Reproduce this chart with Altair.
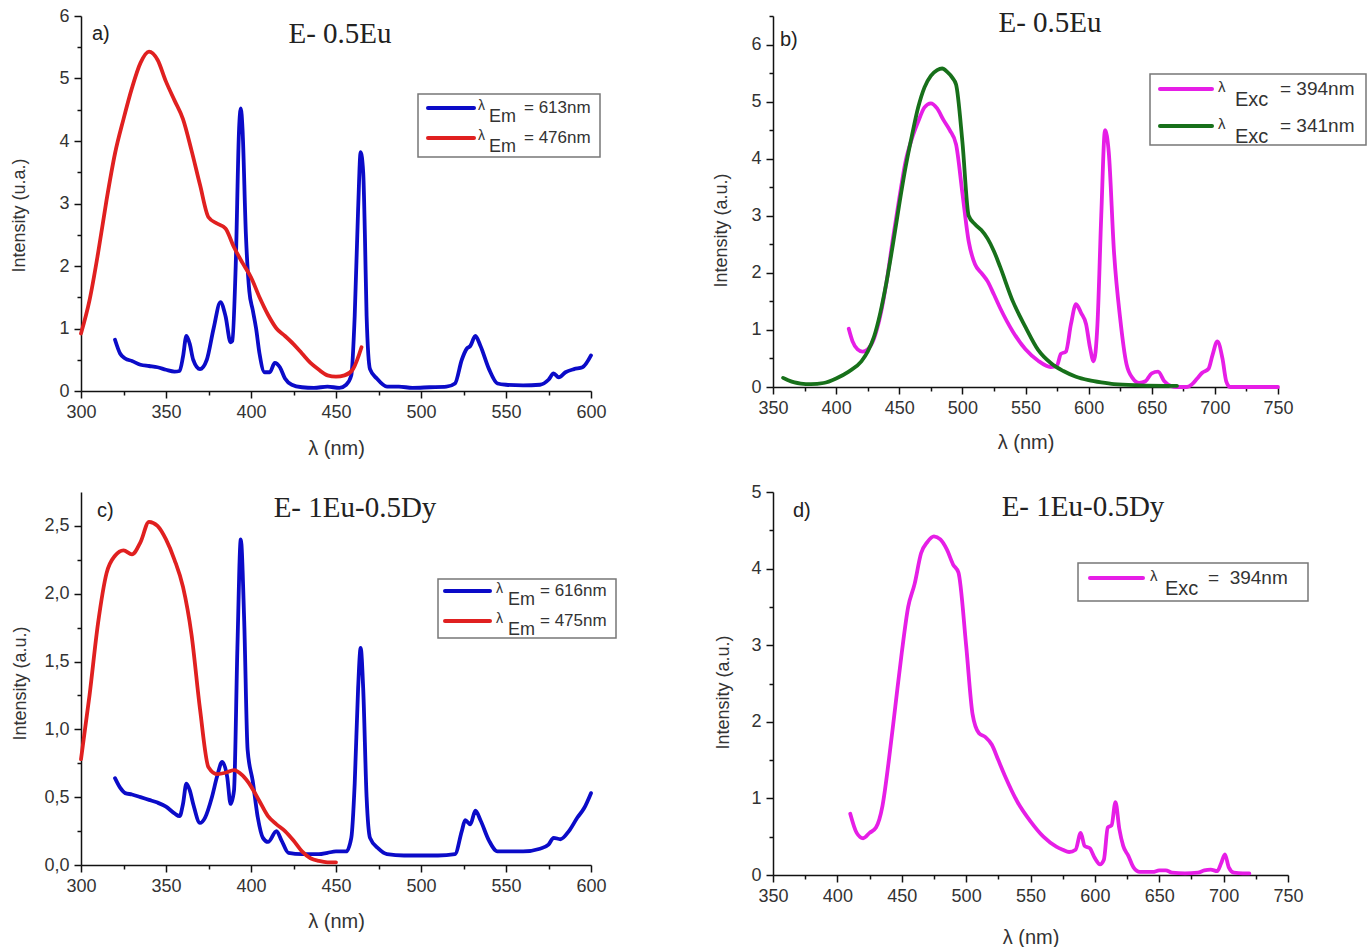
import altair as alt
import pandas as pd

SANS = "Liberation Sans, Arial, Helvetica, sans-serif"
SERIF = "Liberation Serif, Times New Roman, serif"

# ---------------- data (wavelength nm, intensity a.u.) ----------------
# a) E- 0.5Eu excitation
A_BLUE = [(320, 0.82), (323, 0.6), (326, 0.52), (330, 0.48), (335, 0.42), (340, 0.40), (345, 0.38),
          (350, 0.34), (355, 0.31), (358, 0.32), (360, 0.55), (362, 0.88), (364, 0.75), (366, 0.5),
          (370, 0.35), (374, 0.5), (378, 1.0), (382, 1.42), (385, 1.2), (388, 0.78), (389, 0.8),
          (391, 2.0), (393, 4.2), (394, 4.52), (395, 4.2), (397, 2.5), (399, 1.6), (401, 1.3),
          (403, 1.0), (405, 0.6), (408, 0.3), (411, 0.3), (414, 0.45), (417, 0.38), (420, 0.2),
          (424, 0.1), (430, 0.06), (437, 0.05), (445, 0.07), (452, 0.05), (456, 0.1), (459, 0.25),
          (461, 1.2), (463, 2.9), (464.5, 3.82), (466, 3.5), (467, 2.5), (468, 1.2), (470, 0.35),
          (474, 0.2), (480, 0.07), (487, 0.07), (495, 0.05), (505, 0.06), (515, 0.07), (520, 0.12),
          (524, 0.5), (527, 0.68), (529, 0.72), (532, 0.88), (535, 0.72), (540, 0.35), (545, 0.12),
          (550, 0.1), (560, 0.09), (570, 0.1), (575, 0.18), (578, 0.28), (581, 0.22), (585, 0.3),
          (590, 0.35), (595, 0.38), (600, 0.57)]
A_RED = [(300, 0.92), (305, 1.45), (310, 2.2), (315, 3.05), (320, 3.8), (325, 4.35), (330, 4.85),
         (335, 5.25), (340, 5.43), (345, 5.3), (350, 4.95), (355, 4.65), (360, 4.35), (365, 3.85),
         (370, 3.3), (375, 2.78), (380, 2.68), (385, 2.6), (390, 2.3), (395, 2.05), (400, 1.82),
         (405, 1.5), (410, 1.22), (415, 1.0), (420, 0.88), (425, 0.75), (430, 0.6), (435, 0.45),
         (440, 0.34), (445, 0.25), (450, 0.23), (455, 0.25), (460, 0.35), (465, 0.7)]

# b) E- 0.5Eu emission
B_MAG = [(410, 1.02), (413, 0.8), (417, 0.66), (421, 0.62), (425, 0.66), (430, 0.85), (435, 1.25),
         (440, 1.85), (445, 2.6), (450, 3.3), (455, 3.95), (460, 4.35), (465, 4.65), (470, 4.9),
         (475, 4.97), (480, 4.88), (485, 4.68), (490, 4.5), (495, 4.25), (500, 3.4), (505, 2.55),
         (510, 2.15), (515, 2.0), (520, 1.85), (525, 1.62), (530, 1.38), (540, 0.97), (550, 0.66),
         (560, 0.46), (570, 0.35), (575, 0.38), (578, 0.58), (582, 0.62), (586, 1.1), (590, 1.45),
         (594, 1.3), (598, 1.1), (601, 0.7), (604, 0.45), (607, 1.1), (610, 3.0), (613, 4.5),
         (616, 4.1), (620, 2.4), (625, 1.2), (630, 0.4), (635, 0.15), (640, 0.07), (645, 0.1),
         (650, 0.24), (655, 0.27), (660, 0.1), (665, 0.02), (670, 0.0), (678, 0.0), (682, 0.05),
         (686, 0.15), (690, 0.25), (695, 0.32), (698, 0.55), (702, 0.8), (706, 0.5), (709, 0.1),
         (712, 0.0), (750, 0.0)]
B_GREEN = [(358, 0.16), (362, 0.12), (367, 0.08), (372, 0.06), (380, 0.05), (390, 0.07), (400, 0.15),
           (410, 0.27), (420, 0.45), (425, 0.62), (430, 0.88), (435, 1.3), (440, 1.85), (445, 2.5),
           (450, 3.2), (455, 3.85), (460, 4.4), (465, 4.9), (470, 5.25), (475, 5.45), (480, 5.55),
           (484, 5.58), (488, 5.52), (492, 5.42), (495, 5.3), (500, 4.3), (505, 3.0), (510, 2.85),
           (515, 2.75), (520, 2.6), (525, 2.38), (530, 2.1), (540, 1.5), (550, 1.05), (560, 0.65),
           (570, 0.42), (580, 0.28), (590, 0.18), (600, 0.12), (610, 0.08), (620, 0.05), (640, 0.03),
           (670, 0.02)]

# c) E- 1Eu-0.5Dy excitation
C_BLUE = [(320, 0.64), (323, 0.57), (326, 0.53), (330, 0.52), (335, 0.5), (340, 0.48), (345, 0.46),
          (350, 0.43), (355, 0.38), (358, 0.36), (360, 0.45), (362, 0.6), (364, 0.55), (366, 0.45),
          (370, 0.31), (373, 0.35), (377, 0.5), (380, 0.65), (383, 0.76), (386, 0.65), (388, 0.45),
          (390, 0.55), (392, 1.6), (394, 2.4), (396, 1.8), (398, 0.85), (401, 0.62), (404, 0.35),
          (407, 0.2), (410, 0.17), (415, 0.25), (418, 0.18), (422, 0.09), (430, 0.08), (440, 0.08),
          (445, 0.09), (450, 0.1), (456, 0.1), (459, 0.2), (461, 0.6), (463, 1.3), (464.5, 1.6),
          (466, 1.3), (468, 0.5), (470, 0.2), (475, 0.12), (480, 0.08), (490, 0.07), (500, 0.07),
          (510, 0.07), (520, 0.08), (524, 0.25), (526, 0.33), (529, 0.3), (532, 0.4), (535, 0.33),
          (540, 0.18), (545, 0.1), (550, 0.1), (560, 0.1), (570, 0.12), (575, 0.15), (578, 0.2),
          (582, 0.19), (587, 0.25), (592, 0.35), (596, 0.42), (600, 0.53)]
C_RED = [(300, 0.78), (305, 1.25), (310, 1.78), (315, 2.15), (320, 2.28), (325, 2.32), (330, 2.29),
         (335, 2.38), (340, 2.53), (345, 2.5), (350, 2.4), (355, 2.25), (360, 2.05), (365, 1.7),
         (370, 1.15), (375, 0.72), (380, 0.67), (385, 0.68), (390, 0.7), (395, 0.66), (400, 0.58),
         (405, 0.47), (410, 0.36), (415, 0.3), (420, 0.25), (425, 0.18), (430, 0.1), (435, 0.05),
         (440, 0.03), (445, 0.02), (450, 0.02)]

# d) E- 1Eu-0.5Dy emission
D_MAG = [(410, 0.8), (415, 0.55), (420, 0.48), (425, 0.55), (430, 0.62), (435, 0.9), (440, 1.5),
         (445, 2.2), (450, 2.9), (455, 3.5), (460, 3.8), (465, 4.2), (470, 4.35), (475, 4.42),
         (480, 4.38), (485, 4.25), (490, 4.05), (494, 3.95), (500, 3.0), (505, 2.1), (510, 1.85),
         (515, 1.8), (520, 1.7), (525, 1.5), (530, 1.3), (540, 0.95), (550, 0.7), (560, 0.5),
         (570, 0.37), (575, 0.33), (580, 0.3), (585, 0.33), (589, 0.55), (592, 0.38), (596, 0.35),
         (600, 0.22), (604, 0.14), (607, 0.2), (610, 0.62), (613, 0.65), (616, 0.95), (619, 0.6),
         (622, 0.38), (626, 0.25), (630, 0.1), (635, 0.04), (645, 0.04), (650, 0.06), (655, 0.06),
         (660, 0.03), (670, 0.02), (680, 0.03), (685, 0.06), (690, 0.07), (695, 0.05), (698, 0.15),
         (701, 0.27), (704, 0.1), (708, 0.03), (715, 0.02), (720, 0.02)]

SERIES = ["a: Em 613nm", "a: Em 476nm", "b: Exc 394nm", "b: Exc 341nm",
          "c: Em 616nm", "c: Em 475nm", "d: Exc 394nm"]
BLUE = "#0b0bc8"
RED = "#e02020"
MAGENTA = "#e61ee6"
GREEN = "#17701a"
SERIES_COLORS = [BLUE, RED, MAGENTA, GREEN, BLUE, RED, MAGENTA]


def to_df(pairs, name):
    return pd.DataFrame({"wl": [p[0] for p in pairs], "I": [p[1] for p in pairs], "s": name})


def text_mark(t, x, y, size, font=SANS, align="left", color="#222"):
    return alt.Chart(pd.DataFrame({"t": [t]})).mark_text(
        align=align, baseline="middle", font=font, fontSize=size, color=color
    ).encode(x=alt.value(x), y=alt.value(y), text="t:N")


def box(x1, x2, y1, y2):
    return alt.Chart(pd.DataFrame({"k": [0]})).mark_rect(
        fill="white", stroke="#777", strokeWidth=1.5
    ).encode(x=alt.value(x1), x2=alt.value(x2), y=alt.value(y1), y2=alt.value(y2))


def sample(x1, x2, y, color):
    return alt.Chart(pd.DataFrame({"k": [0]})).mark_rule(
        strokeWidth=4, color=color, strokeCap="round"
    ).encode(x=alt.value(x1), x2=alt.value(x2), y=alt.value(y))


def x_axis(lo, hi, width, title_y):
    return alt.Axis(
        values=list(range(lo, hi + 1, 25)),
        labelExpr="datum.value % 50 === 0 ? format(datum.value, 'd') : ''",
        tickSize={"condition": {"test": "datum.value % 50 === 0", "value": 7}, "value": 4},
        title="λ (nm)", titleFontSize=20, titleX=width / 2, titleY=title_y,
        titleAlign="center", titleBaseline="middle",
        labelPadding=5, labelFlush=False, labelOverlap=False,
    )


def y_axis(vals, step, decimal_comma, title, title_x, title_y):
    test = f"abs(datum.value / {step} - round(datum.value / {step})) < 0.000001"
    if decimal_comma:
        lab = "replace(format(datum.value, '.1f'), '.', ',')"
    else:
        lab = "format(datum.value, 'd')"
    return alt.Axis(
        values=vals,
        labelExpr=f"{test} ? {lab} : ''",
        tickSize={"condition": {"test": test, "value": 7}, "value": 4},
        title=title, titleFontSize=18, titleX=title_x, titleY=title_y, titleAngle=270,
        titleAlign="center", titleBaseline="middle",
        labelPadding=5, labelOverlap=False,
    )


def curves(frames, xdom, ydom, xax, yax):
    df = pd.concat(frames, ignore_index=True)
    return alt.Chart(df).mark_line(
        strokeWidth=3.8, interpolate="monotone", strokeJoin="round", strokeCap="round"
    ).encode(
        x=alt.X("wl:Q", scale=alt.Scale(domain=xdom, nice=False, zero=False), axis=xax),
        y=alt.Y("I:Q", scale=alt.Scale(domain=ydom, nice=False), axis=yax),
        color=alt.Color("s:N", scale=alt.Scale(domain=SERIES, range=SERIES_COLORS), legend=None),
    )


def legend_rows(rows, x_line1, x_line2, x_lam, x_sub, x_val, sub_dy, lam_size, sub_size, val_size):
    layers = []
    for color, y, sub, val in rows:
        layers.append(sample(x_line1, x_line2, y, color))
        layers.append(text_mark("λ", x_lam, y - 2, lam_size, color="#333"))
        layers.append(text_mark(sub, x_sub, y + sub_dy, sub_size, color="#333"))
        layers.append(text_mark(val, x_val, y, val_size, color="#333"))
    return layers


# ---------------- panel a ----------------
WA, HA = 510, 375
pa = alt.layer(
    curves([to_df(A_BLUE, SERIES[0]), to_df(A_RED, SERIES[1])],
           [300, 600], [0, 6], x_axis(300, 600, WA, 57),
           y_axis([i * 0.5 for i in range(13)], 1, False, "Intensity (u.a.)", -62, 199)),
    text_mark("a)", 11, 18, 20),
    text_mark("E- 0.5Eu", 259, 18, 29, font=SERIF, align="center"),
    box(337, 519, 78, 141),
    *legend_rows([(BLUE, 92, "Em", "= 613nm"), (RED, 122, "Em", "= 476nm")],
                 347, 393, 397, 408, 443, 9, 14, 18, 17),
).properties(width=WA, height=HA)

# ---------------- panel b ----------------
WB, HB = 505, 371
pb = alt.layer(
    curves([to_df(B_MAG, SERIES[2]), to_df(B_GREEN, SERIES[3])],
           [350, 750], [0, 6.5], x_axis(350, 750, WB, 55),
           y_axis([i * 0.5 for i in range(14)], 1, False, "Intensity (a.u.)", -52, 214)),
    text_mark("b)", 7, 24, 20),
    text_mark("E- 0.5Eu", 277, 7, 29, font=SERIF, align="center"),
    box(377, 593, 58, 129),
    *legend_rows([(MAGENTA, 73, "Exc", "= 394nm"), (GREEN, 110, "Exc", "= 341nm")],
                 387, 439, 445, 462, 507, 11, 15, 20, 19),
).properties(width=WB, height=HB)

# ---------------- panel c ----------------
WC, HC = 510, 373
pc = alt.layer(
    curves([to_df(C_BLUE, SERIES[4]), to_df(C_RED, SERIES[5])],
           [300, 600], [0, 2.75], x_axis(300, 600, WC, 56),
           y_axis([i * 0.25 for i in range(11)], 0.5, True, "Intensity (a.u.)", -61, 191)),
    text_mark("c)", 16, 19, 20),
    text_mark("E- 1Eu-0.5Dy", 274, 16, 29, font=SERIF, align="center"),
    box(357, 535, 87, 146),
    *legend_rows([(BLUE, 99, "Em", "= 616nm"), (RED, 129, "Em", "= 475nm")],
                 364, 409, 415, 427, 459, 9, 14, 18, 17),
).properties(width=WC, height=HC)

# ---------------- panel d ----------------
WD, HD = 515, 383
pd_ = alt.layer(
    curves([to_df(D_MAG, SERIES[6])],
           [350, 750], [0, 5], x_axis(350, 750, WD, 62),
           y_axis([i * 0.5 for i in range(11)], 1, False, "Intensity (a.u.)", -50, 200)),
    text_mark("d)", 20, 19, 20),
    text_mark("E- 1Eu-0.5Dy", 310, 15, 29, font=SERIF, align="center"),
    box(305, 535, 71, 109),
    *legend_rows([(MAGENTA, 86, "Exc", "=\u00a0\u00a0394nm")],
                 317, 370, 377, 392, 435, 11, 15, 20, 19),
).properties(width=WD, height=HD)

chart = alt.concat(
    pa, pb, pc, pd_, columns=2, spacing={"row": 101, "column": 182}, bounds="flush"
).properties(
    padding={"left": 10, "top": 7, "right": 0, "bottom": 0}
).configure_view(stroke=None).configure_axis(
    grid=False, domainColor="#111", tickColor="#111", domainWidth=1.5, tickWidth=1.5,
    labelFont=SANS, labelFontSize=18, labelColor="#333",
    titleFont=SANS, titleFontWeight="normal", titleColor="#333",
)

chart.save("out.html", embed_options={"renderer": "svg", "actions": False})
